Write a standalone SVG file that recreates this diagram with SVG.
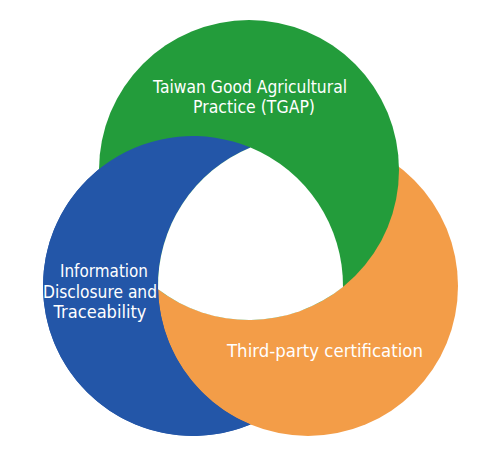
<svg xmlns="http://www.w3.org/2000/svg" width="500" height="469" viewBox="0 0 500 469">
  <style>
    .lbl { fill: #ffffff; font-family: "DejaVu Sans", "Liberation Sans", sans-serif; font-size: 17px; text-anchor: middle; }
    .blue { fill: #2356A8; }
    .orange { fill: #F39D48; }
    .green { fill: #239C3B; }
  </style>
  <rect width="500" height="469" fill="#ffffff"/>
  <g id="blue-circle">
    <circle class="blue" cx="193" cy="286" r="150"/>
  </g>
  <g id="orange-circle">
    <circle class="orange" cx="308" cy="286" r="150"/>
  </g>
  <g id="green-circle">
    <circle class="green" cx="249" cy="170" r="150"/>
  </g>
  <g id="blue-visible">
    <path class="blue" d="M250.5,147.46 A150,150 0 1 0 250.5,424.54 A150,150 0 0 1 250.5,147.46 Z"/>
  </g>
  <g id="center">
    <path d="M250.5,147.46 A150,150 0 0 0 158.04,289.28 A150,150 0 0 0 342.99,286.89 A150,150 0 0 0 250.5,147.46 Z" fill="#ffffff"/>
  </g>
  <g id="tgap">
    <text class="lbl" x="250" y="93" textLength="194" lengthAdjust="spacingAndGlyphs">Taiwan Good Agricultural</text>
    <text class="lbl" x="254" y="113" textLength="122" lengthAdjust="spacingAndGlyphs">Practice (TGAP)</text>
  </g>
  <g id="information">
    <text class="lbl" x="104" y="277" textLength="88" lengthAdjust="spacingAndGlyphs">Information</text>
    <text class="lbl" x="100" y="298" textLength="114" lengthAdjust="spacingAndGlyphs">Disclosure and</text>
    <text class="lbl" x="100" y="318" textLength="93" lengthAdjust="spacingAndGlyphs">Traceability</text>
  </g>
  <g id="third-party">
    <text class="lbl" x="325" y="357" textLength="196" lengthAdjust="spacingAndGlyphs">Third-party certification</text>
  </g>
</svg>
